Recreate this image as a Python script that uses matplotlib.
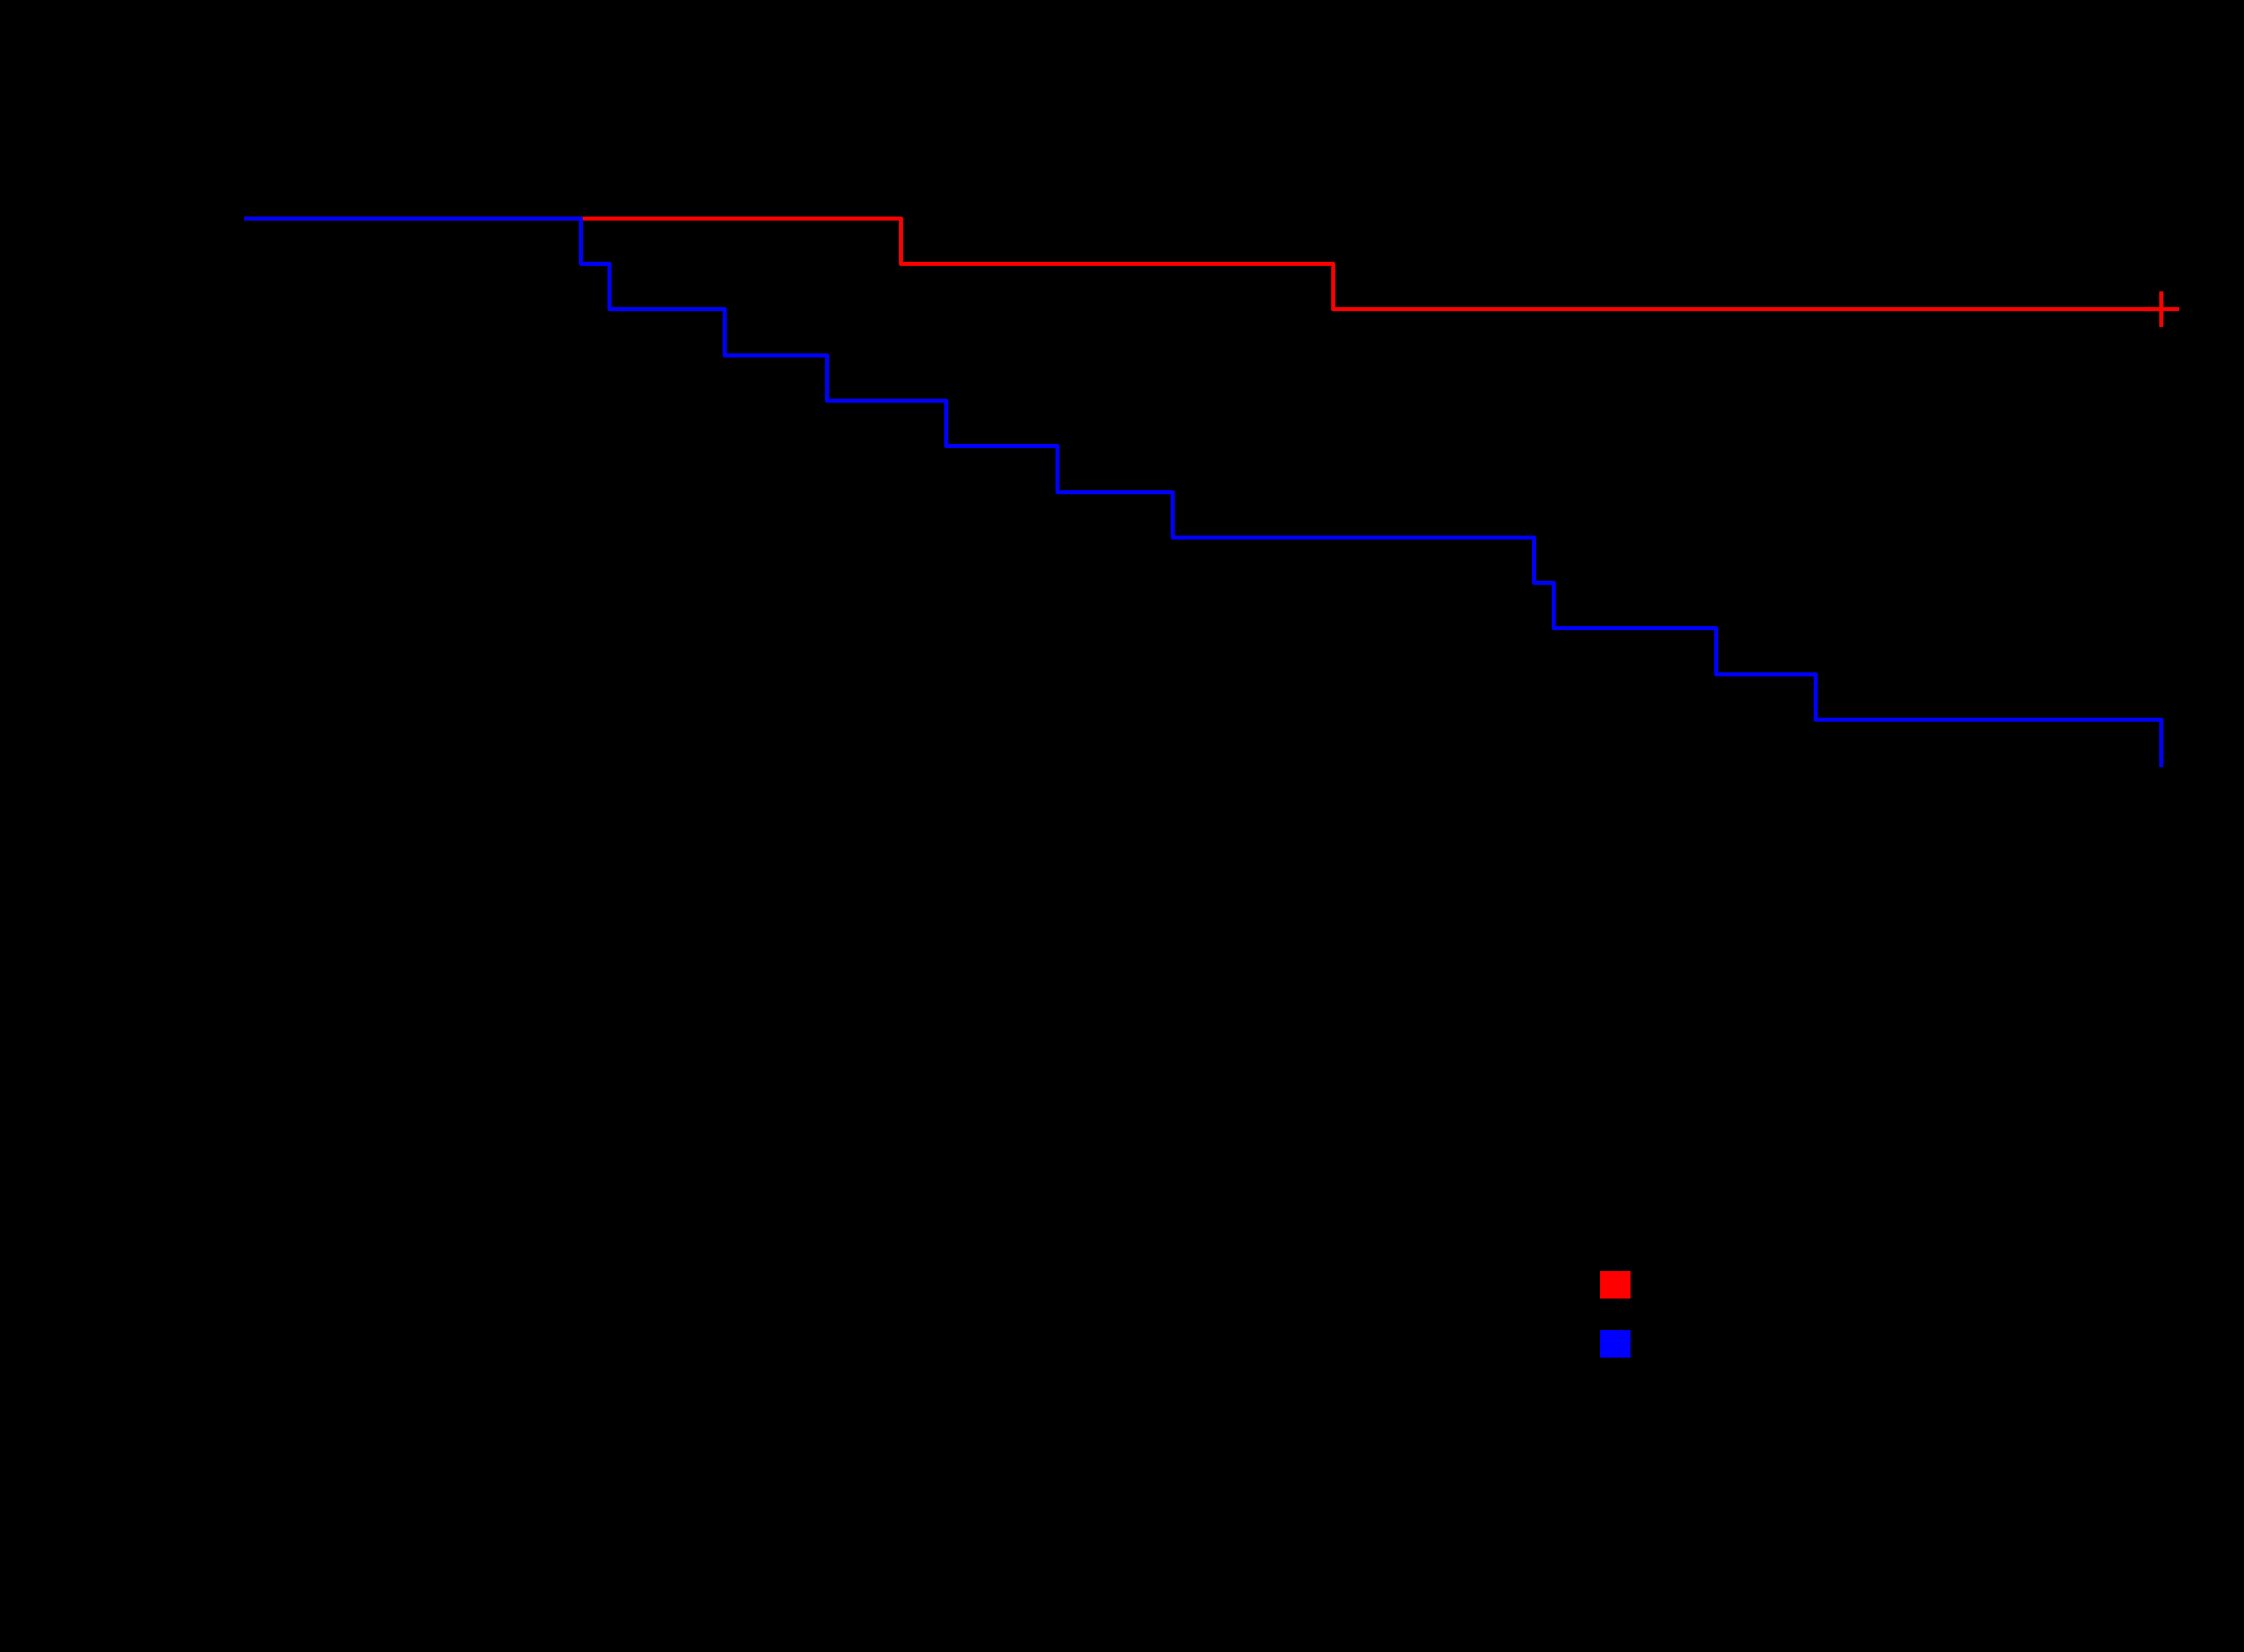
import matplotlib
matplotlib.use("Agg")
import matplotlib.pyplot as plt
from matplotlib.patches import Patch

W, H, DPI = 2279, 1678, 300

# Kaplan-Meier curves (time in months)
red_times = [0, 20.6, 34.1, 60.0]
red_surv = [1.0, 0.958, 0.917, 0.917]
red_censor_time = [60.0]
red_censor_surv = [0.917]

blue_times = [0, 10.6, 11.5, 15.1, 18.3, 22.0, 25.5, 29.1, 40.4, 41.0, 46.1, 49.2, 60.0]
blue_surv = [1.0, 0.958, 0.917, 0.875, 0.833, 0.792, 0.750, 0.708, 0.667, 0.625, 0.583, 0.542, 0.500]

group_labels = ["Group A", "Group B"]
group_colors = ["red", "blue"]

x_ticks = [0, 10, 20, 30, 40, 50, 60]
y_ticks = [0.0, 0.2, 0.4, 0.6, 0.8, 1.0]


def place_legend(fig, ax, handles, target_left, target_top, pitch):
    fs = 12
    fs_px = fs * DPI / 72
    spacing = 0.2
    anchor = [target_left / W, 1 - target_top / H]
    leg = None
    for _ in range(3):
        if leg is not None:
            leg.remove()
        leg = ax.legend(
            handles=handles,
            loc="upper left",
            bbox_to_anchor=tuple(anchor),
            bbox_transform=fig.transFigure,
            fontsize=fs,
            handlelength=0.66,
            handleheight=0.54,
            labelspacing=spacing,
            frameon=True,
            fancybox=False,
            edgecolor="black",
            facecolor="none",
        )
        for t in leg.get_texts():
            t.set_color("black")
        fig.canvas.draw()
        boxes = [p.get_window_extent() for p in leg.get_patches()]
        dx = target_left - boxes[0].x0
        dy = (H - target_top) - boxes[0].y1
        anchor[0] += dx / W
        anchor[1] += dy / H
        got = boxes[0].y0 - boxes[1].y0
        spacing += (pitch - got) / fs_px
    return leg


# the original is black text and axes on a black page
fig = plt.figure(figsize=(W / DPI, H / DPI), dpi=DPI, facecolor="black")
ax = fig.add_axes([0.1079, 0.1792, 0.8894, 0.7151])
ax.set_facecolor("black")

ax.step(red_times, red_surv, where="post", color=group_colors[0], linewidth=1.0)
ax.plot(red_censor_time, red_censor_surv, linestyle="none", marker="+",
        color=group_colors[0], markersize=8.6, markeredgewidth=1.0)
ax.step(blue_times, blue_surv, where="post", color=group_colors[1], linewidth=1.0)

ax.set_xlim(0, 62.4)
ax.set_ylim(-0.04, 1.04)
ax.set_xticks(x_ticks)
ax.set_yticks(y_ticks)
ax.set_xlabel("Time (months)", fontsize=12, color="black")
ax.set_ylabel("Survival probability", fontsize=12, color="black")
ax.tick_params(colors="black", labelsize=12)
for side in ax.spines.values():
    side.set_color("black")
    side.set_linewidth(0.75)

handles = [Patch(facecolor=c, edgecolor="black", linewidth=0.5, label=l)
           for c, l in zip(group_colors, group_labels)]
place_legend(fig, ax, handles, 1624, 1290, 60)

fig.savefig("out.png", dpi=DPI, facecolor="black")
